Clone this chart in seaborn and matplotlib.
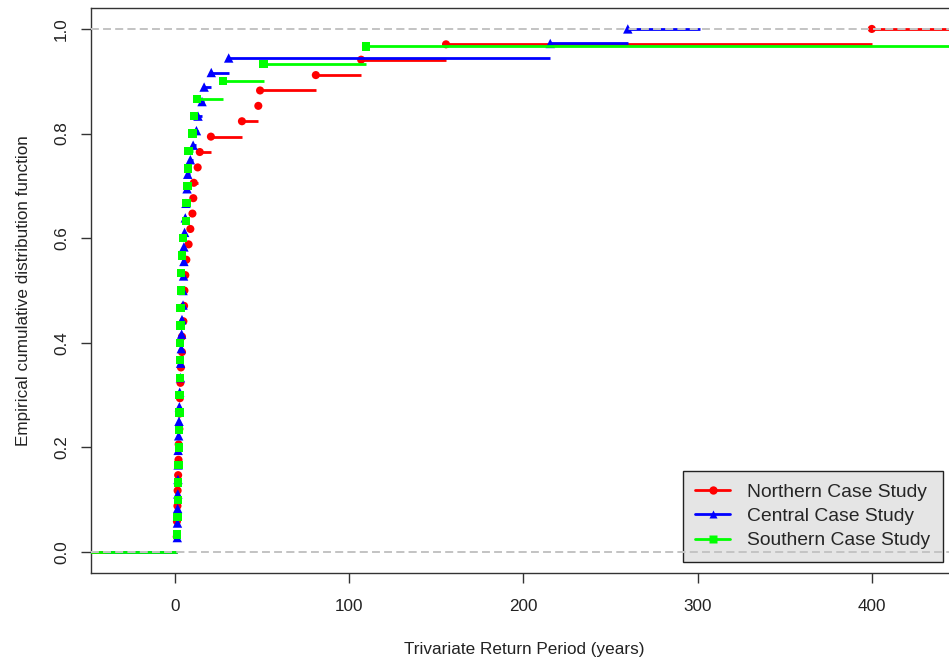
import numpy as np
import pandas as pd
import matplotlib
matplotlib.use("Agg")
import matplotlib.pyplot as plt
from matplotlib.lines import Line2D
import seaborn as sns

# Trivariate return periods (years), one sorted sample per case study
northern = [1.2, 1.3, 1.6, 1.7, 2.0, 2.2, 2.3, 2.7, 2.8, 3.0, 3.3, 3.6,
            4.2, 4.2, 5.0, 5.4, 5.6, 6.1, 6.7, 8.0, 9.0, 10.2, 10.7, 11.0,
            13.2, 14.4, 20.8, 38.6, 48.0, 49.0, 81.0, 107.0, 155.7, 400.0]
central = [1.5, 1.6, 1.7, 1.8, 1.9, 2.0, 2.0, 2.3, 2.5, 2.7, 2.9, 3.3,
           3.4, 3.8, 4.0, 4.2, 4.8, 4.8, 5.1, 5.3, 5.3, 5.7, 6.1, 6.5,
           7.1, 7.5, 9.0, 10.6, 12.5, 13.4, 15.7, 16.9, 21.0, 31.0, 215.5, 260.0]
southern = [1.3, 1.7, 2.0, 2.1, 2.2, 2.3, 2.4, 2.7, 2.8, 3.0, 3.1, 3.2,
            3.3, 3.4, 3.5, 3.6, 4.2, 4.8, 6.5, 6.7, 7.3, 7.5, 8.0, 10.3,
            11.0, 12.8, 27.8, 51.0, 109.6, 520.0]

series_names = ["Northern Case Study", "Central Case Study", "Southern Case Study"]
series_data = [northern, central, southern]
colors = ["#FF0000", "#0000FF", "#00FF00"]
markers = ["o", "^", "s"]
marker_area = {"o": 34, "^": 46, "s": 36}

xticks = [0, 100, 200, 300, 400]
yticks = [0.0, 0.2, 0.4, 0.6, 0.8, 1.0]
ytick_labels = ["0.0", "0.2", "0.4", "0.6", "0.8", "1.0"]

sns.set_style("white")
plt.rcParams["font.family"] = ["Liberation Sans", "DejaVu Sans"]

fig = plt.figure(figsize=(9.49, 6.61), dpi=100)
ax = fig.add_axes([0.0959, 0.1331, 0.9131, 0.8548])

frames = []
for name, vals in zip(series_names, series_data):
    x = np.sort(np.asarray(vals, dtype=float))
    n = len(x)
    frames.append(pd.DataFrame({"period": x, "ecdf": np.arange(1, n + 1) / n,
                                "series": name}))
df = pd.concat(frames, ignore_index=True)

ref_line = dict(color="#C4C4C4", lw=1.1, ls=(0, (5, 3)), zorder=6)

for i, (name, col, mk) in enumerate(zip(series_names, colors, markers)):
    d = df[df["series"] == name]
    x = d["period"].to_numpy()
    y = d["ecdf"].to_numpy()
    # step extension like a stepfun plot: range padded by dr on each side
    dr = max(0.08 * (x[-1] - x[0]), np.median(np.diff(x)))
    starts = np.concatenate([[x[0] - 2 * dr], x])
    ends = np.concatenate([x, [x[-1] + 2 * dr]])
    levels = np.concatenate([[0.0], y])
    ax.hlines(levels, starts, ends, colors=col, lw=2.0, zorder=2 + i)
    sns.scatterplot(data=d, x="period", y="ecdf", color=col, marker=mk,
                    s=marker_area[mk], edgecolor="none", linewidth=0, ax=ax,
                    zorder=2.5 + i, legend=False)
    ax.axhline(0, **ref_line)
    ax.axhline(1, **ref_line)

ax.set_xlim(-48.0, 449.2)
ax.set_ylim(-0.04, 1.04)
ax.set_xticks(xticks)
ax.set_xticklabels([str(t) for t in xticks])
ax.set_yticks(yticks)
ax.set_yticklabels(ytick_labels, rotation=90, va="center")
ax.tick_params(axis="both", direction="out", length=7.2, width=1.0,
               color="#333333", labelsize=12.3, labelcolor="#222222",
               bottom=True, left=True)
ax.tick_params(axis="x", pad=11.5)
ax.tick_params(axis="y", pad=8.5)
for sp in ax.spines.values():
    sp.set_color("#333333")
    sp.set_linewidth(1.0)

ax.set_xlabel("Trivariate Return Period (years)", fontsize=12.3,
              color="#222222", labelpad=20)
ax.set_ylabel("Empirical cumulative distribution function", fontsize=12.3,
              color="#222222", labelpad=17)

handles = [Line2D([0], [0], color=c, lw=2.0, marker=m, markersize=6,
                  markeredgecolor="none")
           for c, m in zip(colors, markers)]
leg = ax.legend(handles, series_names, loc="lower right",
                bbox_to_anchor=(0.983, 0.0195), borderaxespad=0,
                fontsize=13.9, frameon=True, fancybox=False, framealpha=1,
                facecolor="#E5E5E5", edgecolor="#222222",
                handlelength=1.8, handletextpad=0.88, labelspacing=0.35,
                borderpad=0.65)
leg.get_frame().set_linewidth(1.0)

fig.savefig("out.png", dpi=100)
